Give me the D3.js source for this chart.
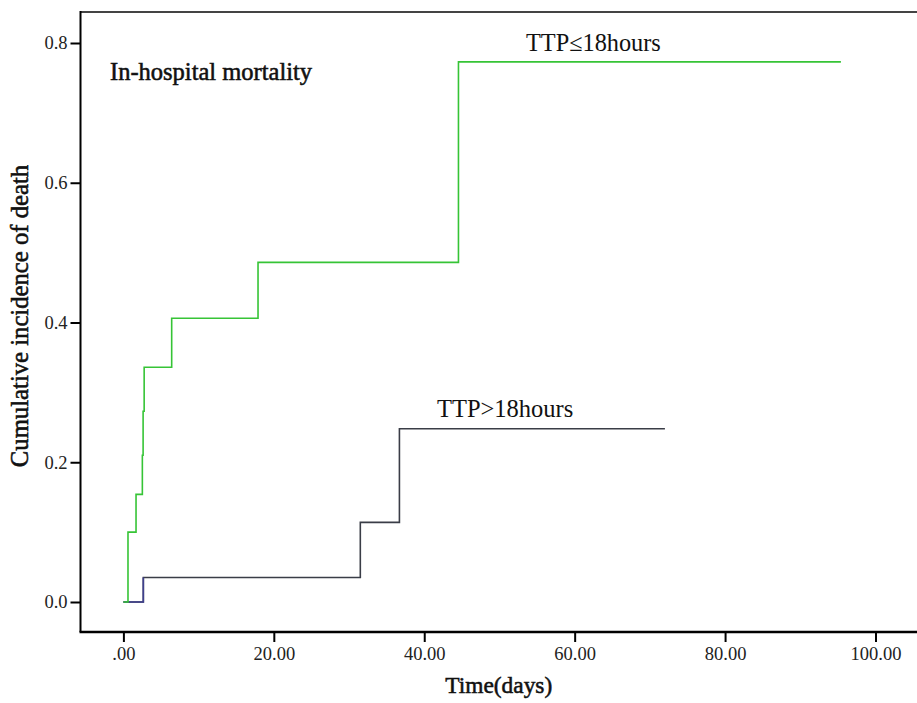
<!DOCTYPE html>
<html>
<head>
<meta charset="utf-8">
<script src="https://cdn.jsdelivr.net/npm/d3@7/dist/d3.min.js"></script>
<style>
  html, body { margin: 0; padding: 0; background: #fff; }
  svg { display: block; }
</style>
</head>
<body>
<svg id="chart" width="917" height="703"></svg>
<script>
// ---- data ----
const xTicks = [0, 20, 40, 60, 80, 100];
const xTickLabels = [".00", "20.00", "40.00", "60.00", "80.00", "100.00"];
const yTicks = [0, 0.2, 0.4, 0.6, 0.8];
const yTickLabels = ["0.0", "0.2", "0.4", "0.6", "0.8"];

// TTP<=18 hours: step times (days) and cumulative incidence after each step
const earlyTimes = [0, 0.61, 1.68, 2.52, 2.62, 2.76, 6.42, 17.9, 44.55, 95.4];
const earlyValues = [0, 0.100, 0.154, 0.210, 0.273, 0.336, 0.406, 0.486, 0.773, 0.773];

// TTP>18 hours
const lateTimes = [0, 2.65, 31.5, 36.7, 72.0];
const lateValues = [0, 0.035, 0.114, 0.248, 0.248];

const seriesNames = ["TTP\u226418hours", "TTP>18hours"];
const chartTitle = "In-hospital mortality";
const xTitle = "Time(days)";
const yTitle = "Cumulative incidence of death";

// ---- drawing ----
const svg = d3.select("#chart");
const font = "Liberation Serif";

const x = d3.scaleLinear().domain([0, 100]).range([123.4, 875.5]);
const y = d3.scaleLinear().domain([0, 0.8]).range([602, 43]);

const frame = { left: 80.5, top: 12, right: 917, bottom: 632 };

// top frame line
svg.append("line")
  .attr("x1", frame.left).attr("x2", frame.right)
  .attr("y1", frame.top).attr("y2", frame.top)
  .attr("stroke", "#444").attr("stroke-width", 2);

// y axis
const yAxis = d3.axisLeft(y)
  .tickValues(yTicks)
  .tickFormat((d, i) => yTickLabels[i])
  .tickSize(10).tickPadding(3);
const gy = svg.append("g").attr("transform", `translate(${frame.left},0)`).call(yAxis);
gy.attr("font-family", null);
gy.select(".domain").remove();
gy.selectAll(".tick line").attr("stroke", "#000").attr("stroke-width", 2);
gy.selectAll(".tick text").style("font-family", font).style("font-size", "18.5px").attr("fill", "#222");
svg.append("line")
  .attr("x1", frame.left).attr("x2", frame.left)
  .attr("y1", frame.top - 1).attr("y2", frame.bottom)
  .attr("stroke", "#000").attr("stroke-width", 2);

// x axis
const xAxis = d3.axisBottom(x)
  .tickValues(xTicks)
  .tickFormat((d, i) => xTickLabels[i])
  .tickSize(10).tickPadding(5);
const gx = svg.append("g").attr("transform", `translate(0,${frame.bottom})`).call(xAxis);
gx.attr("font-family", null);
gx.select(".domain").remove();
gx.selectAll(".tick line").attr("stroke", "#000").attr("stroke-width", 2);
gx.selectAll(".tick text").style("font-family", font).style("font-size", "18.5px").attr("fill", "#222");
svg.append("line")
  .attr("x1", frame.left - 1).attr("x2", frame.right)
  .attr("y1", frame.bottom).attr("y2", frame.bottom)
  .attr("stroke", "#000").attr("stroke-width", 2.6);

// step lines
const stepLine = d3.line().x(d => x(d[0])).y(d => y(d[1])).curve(d3.curveStepAfter);

const early = earlyTimes.map((t, i) => [t, earlyValues[i]]);
const late = lateTimes.map((t, i) => [t, lateValues[i]]);

svg.append("path")
  .attr("d", stepLine(late))
  .attr("fill", "none").attr("stroke", "#3a3d47").attr("stroke-width", 1.6);
// first segment of the late curve rendered bluish as in the reference
svg.append("path")
  .attr("d", stepLine(late.slice(0, 2)) + `V${y(late[1][1])}`)
  .attr("fill", "none").attr("stroke", "#3f3f8f").attr("stroke-width", 1.6);

svg.append("path")
  .attr("d", stepLine(early))
  .attr("fill", "none").attr("stroke", "#36c436").attr("stroke-width", 1.6);

// labels
function label(txt, xx, yy, size, heavy) {
  const t = svg.append("text")
    .attr("x", xx).attr("y", yy)
    .style("font-family", font).style("font-size", size + "px")
    .attr("fill", "#111")
    .text(txt);
  if (heavy) t.attr("stroke", "#111").attr("stroke-width", 0.55);
  return t;
}

label(chartTitle, 110, 80, 24.5, true);
label(seriesNames[0], 526, 51, 24.3, false);
label(seriesNames[1], 437, 417, 24.5, false);
label(xTitle, (frame.left + frame.right) / 2, 693, 23.4, true).attr("text-anchor", "middle");
label(yTitle, 0, 0, 24.7, true)
  .attr("text-anchor", "middle")
  .attr("transform", "translate(28,316) rotate(-90)");
</script>
</body>
</html>
